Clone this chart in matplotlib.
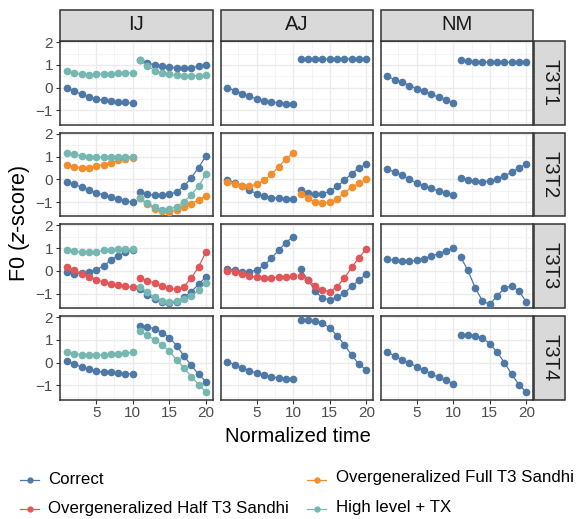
import matplotlib
matplotlib.use("Agg")
import matplotlib.pyplot as plt
from matplotlib.lines import Line2D
from matplotlib.patches import Rectangle
from matplotlib.ticker import MultipleLocator

plt.rcParams["font.family"] = ["Liberation Sans", "DejaVu Sans"]

W, H = 582, 519

speakers = ["IJ", "AJ", "NM"]
tones = ["T3T1", "T3T2", "T3T3", "T3T4"]
series_names = ["Correct", "Overgeneralized Full T3 Sandhi",
                "Overgeneralized Half T3 Sandhi", "High level + TX"]
series_colors = ["#4E79A7", "#F28E2B", "#E15759", "#76B7B2"]
time = list(range(1, 21))

# --- T3T1 ---
ij_t3t1_correct = [0.0, -0.15, -0.3, -0.4, -0.5, -0.55, -0.6, -0.63, -0.65, -0.68,
                   1.2, 1.08, 1.0, 0.93, 0.9, 0.88, 0.87, 0.88, 0.93, 1.0]
ij_t3t1_high = [0.75, 0.65, 0.6, 0.57, 0.58, 0.6, 0.62, 0.63, 0.64, 0.65,
                1.2, 0.95, 0.75, 0.65, 0.58, 0.55, 0.53, 0.53, 0.53, 0.55]
aj_t3t1_correct = [0.0, -0.13, -0.26, -0.38, -0.5, -0.57, -0.63, -0.67, -0.7, -0.7,
                   1.27, 1.27, 1.26, 1.26, 1.25, 1.26, 1.26, 1.27, 1.27, 1.28]
nm_t3t1_correct = [0.5, 0.35, 0.23, 0.09, -0.04, -0.16, -0.29, -0.42, -0.54, -0.67,
                   1.2, 1.16, 1.13, 1.12, 1.11, 1.11, 1.11, 1.11, 1.11, 1.11]

# --- T3T2 ---
ij_t3t2_correct = [-0.1, -0.22, -0.35, -0.47, -0.59, -0.68, -0.77, -0.86, -0.94, -1.0,
                   -0.56, -0.65, -0.7, -0.7, -0.66, -0.55, -0.3, 0.06, 0.52, 1.02]
ij_t3t2_full = [0.64, 0.55, 0.5, 0.52, 0.58, 0.65, 0.74, 0.83, 0.9, 0.95,
                -0.83, -1.1, -1.3, -1.4, -1.42, -1.36, -1.22, -1.07, -0.9, -0.72]
ij_t3t2_high = [1.15, 1.1, 1.04, 1.0, 0.98, 0.97, 0.98, 1.0, 1.0, 1.0,
                -0.83, -1.05, -1.22, -1.34, -1.31, -1.2, -0.99, -0.68, -0.3, 0.22]
aj_t3t2_correct = [-0.03, -0.15, -0.3, -0.48, -0.63, -0.74, -0.8, -0.83, -0.86, -0.87,
                   -0.46, -0.58, -0.65, -0.63, -0.53, -0.31, -0.04, 0.25, 0.5, 0.66]
aj_t3t2_full = [-0.12, -0.22, -0.31, -0.31, -0.22, -0.04, 0.22, 0.55, 0.9, 1.15,
                -0.63, -0.84, -1.0, -1.05, -1.0, -0.86, -0.59, -0.35, -0.18, 0.01]
nm_t3t2_correct = [0.46, 0.31, 0.18, 0.0, -0.16, -0.28, -0.4, -0.52, -0.6, -0.68,
                   0.06, -0.01, -0.09, -0.1, -0.07, 0.03, 0.16, 0.31, 0.5, 0.68]

# --- T3T3 ---
ij_t3t3_correct = [-0.03, -0.12, -0.1, -0.04, 0.05, 0.22, 0.47, 0.67, 0.82, 0.94,
                   -0.79, -1.06, -1.24, -1.38, -1.43, -1.35, -1.16, -0.91, -0.59, -0.26]
ij_t3t3_half = [0.19, 0.04, -0.12, -0.26, -0.38, -0.49, -0.57, -0.63, -0.68, -0.71,
                -0.32, -0.43, -0.53, -0.65, -0.76, -0.81, -0.69, -0.32, 0.18, 0.82]
ij_t3t3_high = [0.94, 0.87, 0.82, 0.82, 0.85, 0.9, 0.94, 0.96, 0.96, 0.96,
                -0.72, -0.94, -1.16, -1.31, -1.35, -1.32, -1.25, -1.12, -0.84, -0.54]
aj_t3t3_correct = [0.09, 0.03, -0.03, -0.03, 0.04, 0.24, 0.56, 0.91, 1.25, 1.5,
                   0.07, -0.38, -0.87, -1.21, -1.26, -1.16, -0.97, -0.68, -0.4, -0.13]
aj_t3t3_half = [0.01, -0.04, -0.13, -0.21, -0.28, -0.29, -0.29, -0.28, -0.25, -0.21,
                -0.21, -0.38, -0.65, -0.84, -0.91, -0.69, -0.32, 0.16, 0.59, 0.97]
nm_t3t3_correct = [0.51, 0.46, 0.43, 0.43, 0.47, 0.54, 0.65, 0.76, 0.88, 1.0,
                   0.62, 0.03, -0.74, -1.32, -1.47, -1.1, -0.76, -0.65, -0.9, -1.35]

# --- T3T4 ---
ij_t3t4_correct = [0.07, -0.07, -0.19, -0.3, -0.38, -0.41, -0.43, -0.46, -0.48, -0.49,
                   1.61, 1.57, 1.49, 1.32, 1.1, 0.75, 0.29, -0.12, -0.51, -0.83]
ij_t3t4_high = [0.46, 0.39, 0.35, 0.32, 0.32, 0.35, 0.38, 0.39, 0.42, 0.45,
                1.38, 1.2, 1.0, 0.78, 0.5, 0.13, -0.23, -0.61, -0.97, -1.29]
aj_t3t4_correct = [0.04, -0.09, -0.22, -0.35, -0.46, -0.55, -0.62, -0.67, -0.7, -0.71,
                   1.87, 1.87, 1.84, 1.74, 1.52, 1.19, 0.78, 0.33, -0.07, -0.33]
nm_t3t4_correct = [0.46, 0.3, 0.12, -0.03, -0.17, -0.33, -0.49, -0.65, -0.78, -0.94,
                   1.22, 1.22, 1.19, 1.07, 0.84, 0.46, 0.0, -0.51, -0.97, -1.3]

# (tone, speaker) -> {series index: values}
panels = {
    ("T3T1", "IJ"): {0: ij_t3t1_correct, 3: ij_t3t1_high},
    ("T3T1", "AJ"): {0: aj_t3t1_correct},
    ("T3T1", "NM"): {0: nm_t3t1_correct},
    ("T3T2", "IJ"): {0: ij_t3t2_correct, 1: ij_t3t2_full, 3: ij_t3t2_high},
    ("T3T2", "AJ"): {0: aj_t3t2_correct, 1: aj_t3t2_full},
    ("T3T2", "NM"): {0: nm_t3t2_correct},
    ("T3T3", "IJ"): {0: ij_t3t3_correct, 2: ij_t3t3_half, 3: ij_t3t3_high},
    ("T3T3", "AJ"): {0: aj_t3t3_correct, 2: aj_t3t3_half},
    ("T3T3", "NM"): {0: nm_t3t3_correct},
    ("T3T4", "IJ"): {0: ij_t3t4_correct, 3: ij_t3t4_high},
    ("T3T4", "AJ"): {0: aj_t3t4_correct},
    ("T3T4", "NM"): {0: nm_t3t4_correct},
}

fig = plt.figure(figsize=(W / 100, H / 100), dpi=100)

col_left = [60, 220.5, 380.5]
panel_w = 152.8
row_top = [41, 132.7, 224.3, 316]
panel_h = 83.5
strip = 31
border = "#333333"
tick_gray = "#4D4D4D"


def fig_rect(x, y, w, h):
    return [x / W, 1 - (y + h) / H, w / W, h / H]


for r, tone in enumerate(tones):
    for c, spk in enumerate(speakers):
        ax = fig.add_axes(fig_rect(col_left[c], row_top[r], panel_w, panel_h))
        ax.set_xlim(0.05, 20.95)
        ax.set_ylim(-1.62, 2.05)
        ax.xaxis.set_major_locator(MultipleLocator(5))
        ax.xaxis.set_minor_locator(MultipleLocator(2.5))
        ax.yaxis.set_major_locator(MultipleLocator(1))
        ax.yaxis.set_minor_locator(MultipleLocator(0.5))
        ax.grid(which="major", color="#EBEBEB", lw=1.0)
        ax.grid(which="minor", color="#F2F2F2", lw=0.6)
        ax.set_axisbelow(True)
        for s in ax.spines.values():
            s.set_color(border)
            s.set_linewidth(1.1)
        ax.tick_params(which="minor", length=0)
        ax.tick_params(which="major", length=3, color=border, width=0.8,
                       labelsize=11, labelcolor=tick_gray, pad=2)
        if c != 0:
            ax.tick_params(axis="y", labelleft=False, length=0)
        if r != 3:
            ax.tick_params(axis="x", labelbottom=False, length=0)

        for k, vals in sorted(panels[(tone, spk)].items()):
            for seg in (slice(0, 10), slice(10, 20)):
                ax.plot(time[seg], vals[seg], "-o", color=series_colors[k],
                        lw=0.9, ms=4.5, zorder=3 + k)

        # right-hand strip
        if c == 2:
            sx = col_left[c] + panel_w + 1
            fig.patches.append(Rectangle((sx / W, 1 - (row_top[r] + panel_h) / H),
                                         strip / W, panel_h / H,
                                         transform=fig.transFigure, facecolor="#D9D9D9",
                                         edgecolor=border, lw=1.1))
            fig.text((sx + strip / 2) / W, 1 - (row_top[r] + panel_h / 2) / H, tone,
                     rotation=270, ha="center", va="center", fontsize=14.5, color="#1A1A1A")

# top strips
for c, spk in enumerate(speakers):
    fig.patches.append(Rectangle((col_left[c] / W, 1 - 40.5 / H), panel_w / W, strip / H,
                                 transform=fig.transFigure, facecolor="#D9D9D9",
                                 edgecolor=border, lw=1.1))
    fig.text((col_left[c] + panel_w / 2) / W, 1 - 25 / H, spk,
             ha="center", va="center", fontsize=14.5, color="#1A1A1A")

fig.text(20 / W, 1 - 224 / H, r"F0 ($\it{z}$-score)", rotation=90, ha="center",
         va="center", fontsize=15.5)
fig.text(298 / W, 1 - 436 / H, "Normalized time", ha="center", va="center", fontsize=14.5)

# legend: (key left, key y, text left, text y)
legend_pos = [(20, 480, 48, 479), (307, 480, 336, 477.5),
              (20, 509, 48, 508), (307, 509, 336, 507.7)]
for k, (kx, ky, tx, ty) in enumerate(legend_pos):
    yk = 1 - ky / H
    fig.lines.append(Line2D([kx / W, (kx + 19) / W], [yk, yk],
                            transform=fig.transFigure, color=series_colors[k], lw=0.9))
    fig.lines.append(Line2D([(kx + 9.5) / W], [yk], transform=fig.transFigure,
                            color=series_colors[k], marker="o", ms=3.5, lw=0))
    fig.text(tx / W, 1 - ty / H, series_names[k], ha="left", va="center",
             fontsize=12.2)

fig.savefig("out.png", dpi=100)
